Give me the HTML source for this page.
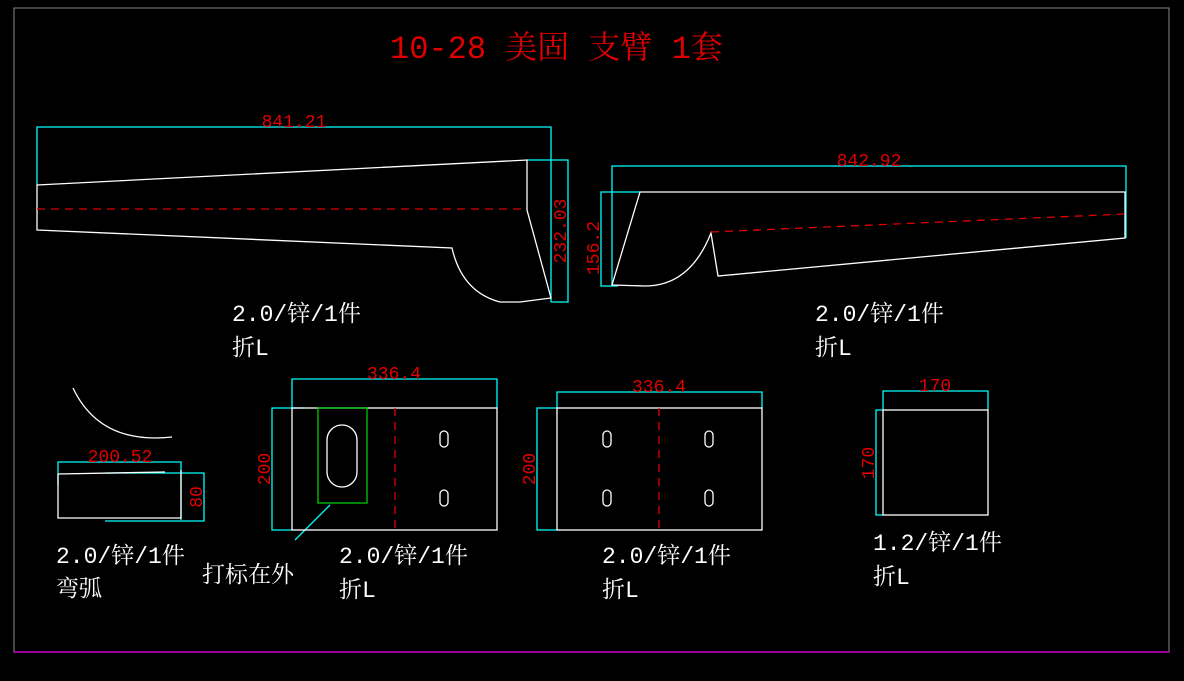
<!DOCTYPE html>
<html><head><meta charset="utf-8"><style>
html,body{margin:0;padding:0;background:#000;}
svg{display:block}
text{font-family:"Liberation Mono","Noto Serif CJK SC",monospace;}
.w{fill:#fff;font-size:23px}
.r{fill:#e00000;font-size:18px}
</style></head><body>
<svg width="1184" height="681" viewBox="0 0 1184 681" xmlns="http://www.w3.org/2000/svg">
<rect x="14" y="8" width="1155" height="644" fill="none" stroke="#888" stroke-width="1"/>
<line x1="14" y1="652" x2="1169" y2="652" stroke="#d000d0" stroke-width="1.5"/>
<text x="390" y="58" fill="#e00000" style="font-size:32px">10-28 美固 支臂 1套</text>

<g fill="none" stroke-width="1.3">
<!-- part 1 -->
<g stroke="#0ff">
<polyline points="37,185 37,127 551,127 551,302"/>
<polyline points="527,160 568,160 568,302 551,302"/>
</g>
<path stroke="#fff" d="M37,185 L527,160 L527,210 L551,298 L520,302 L500,302 Q462,292 452,248 L37,230 Z"/>
<line x1="37" y1="209" x2="527" y2="209" stroke="#e00000" stroke-dasharray="8,6"/>
<!-- part 2 -->
<g stroke="#0ff">
<polyline points="612,285 612,166 1126,166 1126,238"/>
<polyline points="640,192 601,192 601,286 618,286"/>
</g>
<path stroke="#fff" d="M640,192 L1125,192 L1125,238 L718,276 L711,233 Q690,286 645,286 L612,285 Z"/>
<line x1="711" y1="232" x2="1125" y2="214" stroke="#e00000" stroke-dasharray="8,6"/>
<!-- arc -->
<path stroke="#fff" d="M73,388 Q100,445 172,437"/>
<g stroke="#0ff"><polyline points="58,485 58,462 181,462 181,520"/><polyline points="105,473 204,473 204,521 105,521"/></g>
<path stroke="#fff" d="M58,474 L165,472 M58,474 L58,518 L181,518 L181,470"/>
<!-- part 3 -->
<g stroke="#0ff"><polyline points="292,408 292,379 497,379 497,408"/><polyline points="305,408 272,408 272,530 292,530"/><line x1="330" y1="505" x2="295" y2="540"/></g>
<rect stroke="#fff" x="292" y="408" width="205" height="122"/>
<rect stroke="#0c0" x="318" y="408" width="49" height="95"/>
<rect stroke="#fff" x="327" y="425" width="30" height="62" rx="15"/>
<line x1="395" y1="408" x2="395" y2="530" stroke="#e00000" stroke-dasharray="8,6"/>
<rect stroke="#fff" x="440" y="431" width="8" height="16" rx="4"/>
<rect stroke="#fff" x="440" y="490" width="8" height="16" rx="4"/>
<!-- part 4 -->
<g stroke="#0ff"><polyline points="557,408 557,392 762,392 762,408"/><polyline points="557,408 537,408 537,530 557,530"/></g>
<rect stroke="#fff" x="557" y="408" width="205" height="122"/>
<line x1="659" y1="408" x2="659" y2="530" stroke="#e00000" stroke-dasharray="8,6"/>
<rect stroke="#fff" x="603" y="431" width="8" height="16" rx="4"/>
<rect stroke="#fff" x="603" y="490" width="8" height="16" rx="4"/>
<rect stroke="#fff" x="705" y="431" width="8" height="16" rx="4"/>
<rect stroke="#fff" x="705" y="490" width="8" height="16" rx="4"/>
<!-- part 5 -->
<g stroke="#0ff"><polyline points="883,410 883,391 988,391 988,410"/><polyline points="883,410 876,410 876,515 883,515"/></g>
<rect stroke="#fff" x="883" y="410" width="105" height="105"/>
</g>

<text class="r" x="294" y="127" text-anchor="middle">841.21</text>
<text class="r" transform="translate(566,231) rotate(-90)" text-anchor="middle">232.03</text>
<text class="r" x="869" y="166" text-anchor="middle">842.92</text>
<text class="r" transform="translate(599,248) rotate(-90)" text-anchor="middle">156.2</text>
<text class="r" x="120" y="462" text-anchor="middle">200.52</text>
<text class="r" transform="translate(202,497) rotate(-90)" text-anchor="middle">80</text>
<text class="r" x="394" y="379" text-anchor="middle">336.4</text>
<text class="r" transform="translate(270,469) rotate(-90)" text-anchor="middle">200</text>
<text class="r" x="659" y="392" text-anchor="middle">336.4</text>
<text class="r" transform="translate(535,469) rotate(-90)" text-anchor="middle">200</text>
<text class="r" x="935" y="391" text-anchor="middle">170</text>
<text class="r" transform="translate(874,463) rotate(-90)" text-anchor="middle">170</text>

<text class="w" x="232" y="321">2.0/锌/1件</text><text class="w" x="232" y="355">折L</text>
<text class="w" x="815" y="321">2.0/锌/1件</text><text class="w" x="815" y="355">折L</text>
<text class="w" x="56" y="563">2.0/锌/1件</text><text class="w" x="56" y="596">弯弧</text>
<text class="w" x="202" y="582">打标在外</text>
<text class="w" x="339" y="563">2.0/锌/1件</text><text class="w" x="339" y="597">折L</text>
<text class="w" x="602" y="563">2.0/锌/1件</text><text class="w" x="602" y="597">折L</text>
<text class="w" x="873" y="550">1.2/锌/1件</text><text class="w" x="873" y="584">折L</text>
</svg>
</body></html>
